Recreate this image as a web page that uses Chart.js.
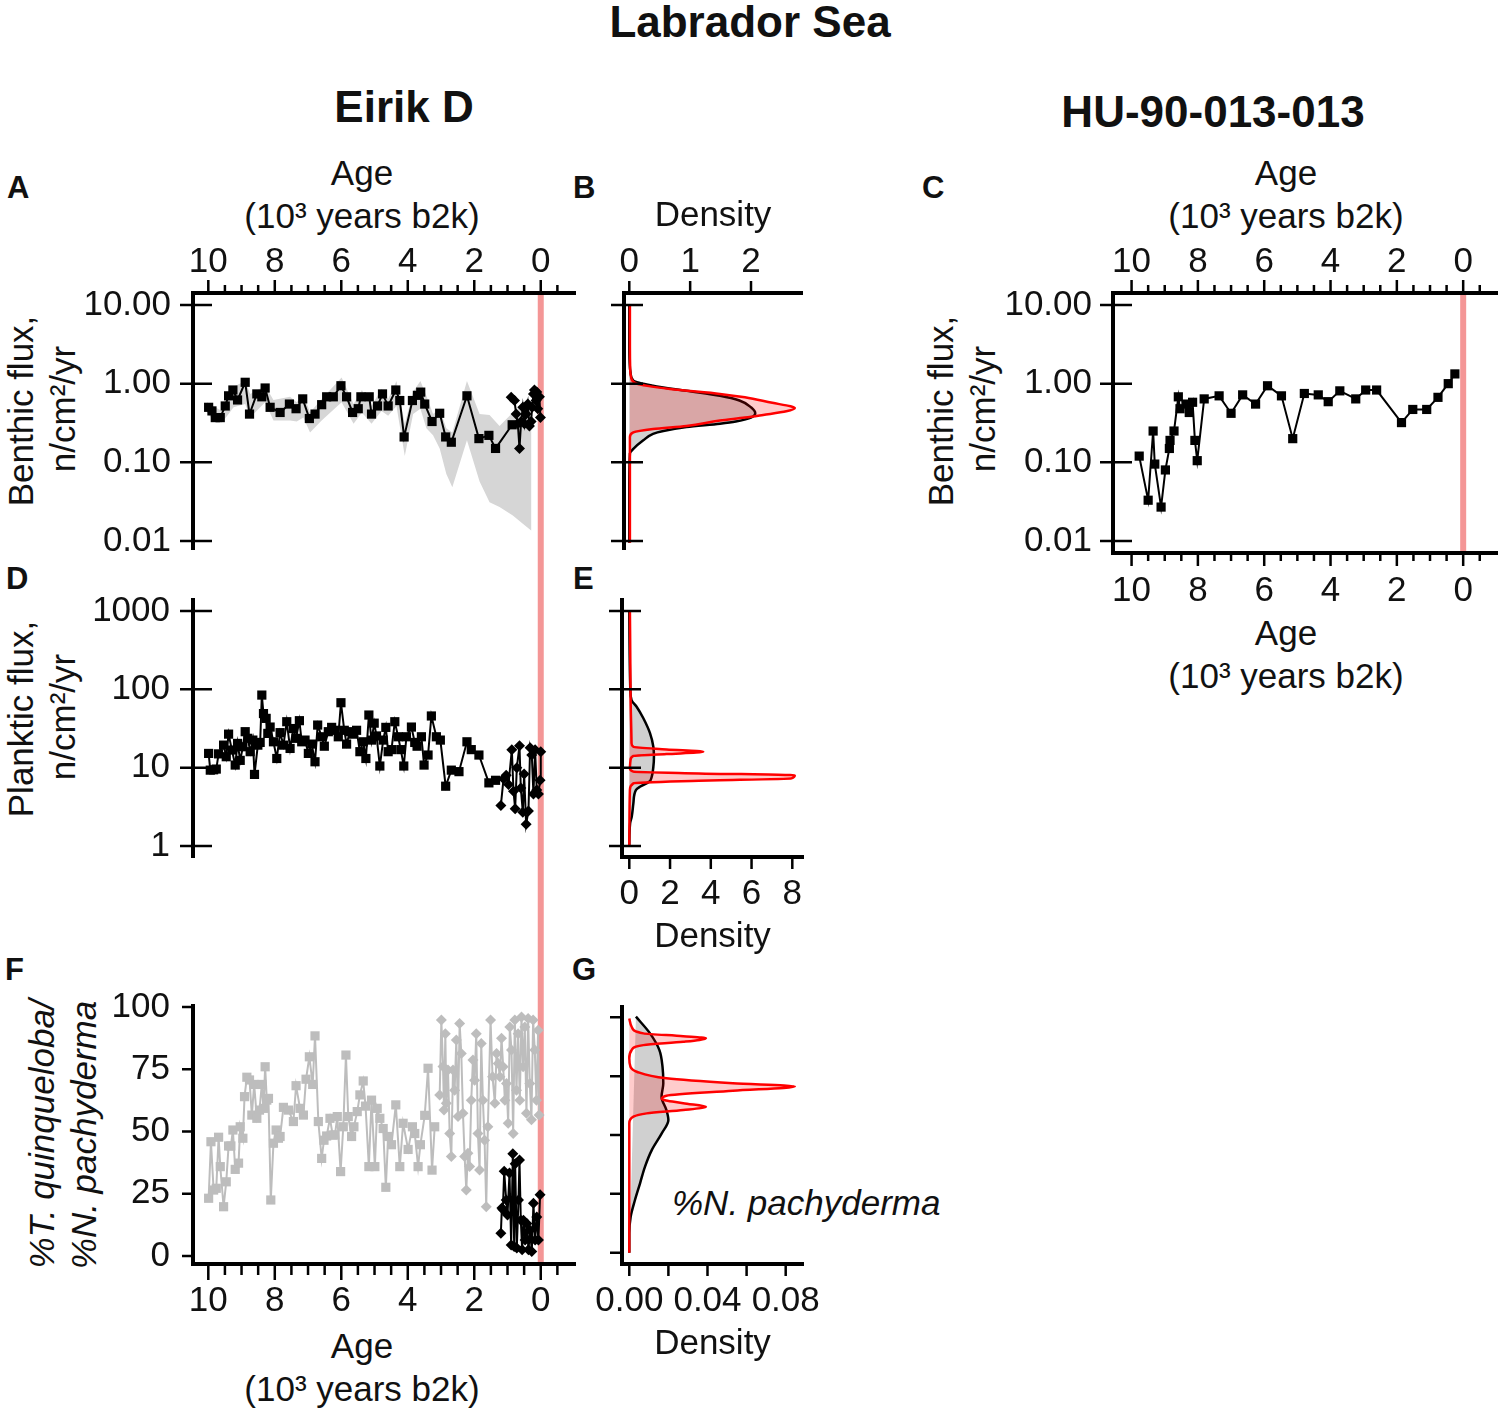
<!DOCTYPE html>
<html>
<head>
<meta charset="utf-8">
<title>Labrador Sea</title>
<script src="https://cdn.jsdelivr.net/npm/chart.js@4.4.1/dist/chart.umd.min.js"></script>
<style>
  body { margin: 0; background: #fff; width: 1500px; height: 1410px; position: relative; overflow: hidden;
         font-family: 'Liberation Sans', Arial, Helvetica, sans-serif; color: #111; }
  canvas { position: absolute; }
  .t { position: absolute; white-space: nowrap; line-height: 1; }
  .b { font-weight: bold; }
  .c { transform: translateX(-50%); }
  .m { font-size: 35px; transform: translate(-50%, -50%); }
  .r { font-size: 35px; transform: translate(-50%, -50%) rotate(-90deg); }
  .i { font-style: italic; }
</style>
</head>
<body>
<div class="t b c" style="left:750px;top:0px;font-size:44px">Labrador Sea</div>
<div class="t b c" style="left:404px;top:85px;font-size:44px">Eirik D</div>
<div class="t b c" style="left:1213px;top:90px;font-size:44px">HU-90-013-013</div>

<div class="t b" style="left:7px;top:172px;font-size:31px">A</div>
<div class="t b" style="left:573px;top:172px;font-size:31px">B</div>
<div class="t b" style="left:922px;top:172px;font-size:31px">C</div>
<div class="t b" style="left:6px;top:563px;font-size:31px">D</div>
<div class="t b" style="left:573px;top:563px;font-size:31px">E</div>
<div class="t b" style="left:5px;top:954px;font-size:31px">F</div>
<div class="t b" style="left:572px;top:954px;font-size:31px">G</div>

<!-- axis titles -->
<div class="t m" style="left:362px;top:172px">Age</div>
<div class="t m" style="left:362px;top:215px">(10³ years b2k)</div>
<div class="t m" style="left:1286px;top:172px">Age</div>
<div class="t m" style="left:1286px;top:215px">(10³ years b2k)</div>
<div class="t m" style="left:1286px;top:632px">Age</div>
<div class="t m" style="left:1286px;top:675px">(10³ years b2k)</div>
<div class="t m" style="left:362px;top:1345px">Age</div>
<div class="t m" style="left:362px;top:1388px">(10³ years b2k)</div>

<div class="t r" style="left:20px;top:411px">Benthic flux,</div>
<div class="t r" style="left:62px;top:409px">n/cm²/yr</div>
<div class="t r" style="left:940px;top:411px">Benthic flux,</div>
<div class="t r" style="left:982px;top:409px">n/cm²/yr</div>
<div class="t r" style="left:20px;top:719px">Planktic flux,</div>
<div class="t r" style="left:62px;top:717px">n/cm²/yr</div>
<div class="t r i" style="left:41px;top:1134px">%T. quinqueloba/</div>
<div class="t r i" style="left:83px;top:1135px">%N. pachyderma</div>

<div class="t i" style="left:672px;top:1185px;font-size:35px">%N. pachyderma</div>

<canvas id="cA"></canvas>
<canvas id="cB"></canvas>
<canvas id="cC"></canvas>
<canvas id="cD"></canvas>
<canvas id="cE"></canvas>
<canvas id="cF"></canvas>
<canvas id="cG"></canvas>

<script>
// ---- tick labels ----
const ageTicks = [10, 8, 6, 4, 2, 0];
const ageMinorTicks = [9.5, 9, 8.5, 7.5, 7, 6.5, 5.5, 5, 4.5, 3.5, 3, 2.5, 1.5, 1, 0.5, -0.5];
const benthicTicks = [10, 1, 0.1, 0.01];
const plankticTicks = [1000, 100, 10, 1];
const pctTicks = [0, 25, 50, 75, 100];
const densBTicks = [0, 1, 2];
const densETicks = [0, 2, 4, 6, 8];
const densGTicks = [0, 0.04, 0.08];
const densGMarks = [0, 0.02, 0.04, 0.06, 0.08];
const refAge = 0;

// ---- A: Eirik D benthic flux ----
const eirikAgeSq = [9.99, 9.89, 9.79, 9.64, 9.49, 9.39, 9.26, 9.12, 8.89, 8.76, 8.54, 8.39, 8.29, 8.14, 7.84,
  7.56, 7.36, 7.16, 6.96, 6.79, 6.59, 6.44, 6.24, 6.01, 5.84, 5.66, 5.49, 5.41, 5.16, 5.09, 4.91, 4.76, 4.59,
  4.36, 4.24, 4.11, 3.86, 3.71, 3.61, 3.49, 3.27, 3.04, 2.86, 2.69, 2.22, 1.86, 1.56, 1.36, 0.86];
const eirikBenthicSq = [0.50, 0.45, 0.37, 0.37, 0.52, 0.70, 0.83, 0.62, 1.04, 0.41, 0.74, 0.68, 0.88, 0.50, 0.43,
  0.55, 0.48, 0.64, 0.36, 0.41, 0.54, 0.68, 0.68, 0.94, 0.68, 0.43, 0.48, 0.68, 0.68, 0.41, 0.52, 0.74, 0.52,
  0.83, 0.61, 0.21, 0.61, 0.71, 0.78, 0.55, 0.33, 0.42, 0.21, 0.18, 0.70, 0.20, 0.22, 0.15, 0.30];
const eirikAgeDi = [0.89, 0.79, 0.74, 0.69, 0.64, 0.59, 0.54, 0.49, 0.44, 0.39, 0.34, 0.29, 0.26, 0.22, 0.19,
  0.14, 0.12, 0.09, 0.04, 0.01];
const eirikBenthicDi = [0.67, 0.61, 0.41, 0.31, 0.15, 0.33, 0.50, 0.31, 0.41, 0.55, 0.29, 0.33, 0.50, 0.74, 0.83,
  0.61, 0.78, 0.48, 0.68, 0.37];
const bandAge = [10.04, 9.79, 9.59, 9.39, 9.24, 8.89, 8.74, 8.29, 8.04, 7.54, 7.34, 7.14, 6.94, 6.59, 5.99, 5.63,
  5.38, 5.09, 4.79, 4.59, 4.34, 4.09, 3.84, 3.62, 3.44, 3.24, 3.04, 2.84, 2.66, 2.22, 1.84, 1.54, 1.24, 0.84, 0.53, 0.28];
const bandHi = [0.58, 0.50, 0.45, 0.79, 0.91, 1.08, 0.74, 0.94, 0.62, 0.68, 0.58, 0.74, 0.43, 0.64, 1.2, 0.55,
  0.83, 0.52, 0.86, 0.64, 1.08, 0.31, 0.79, 1.08, 0.70, 0.41, 0.48, 0.27, 0.24, 1.08, 0.41, 0.40, 0.29, 0.43, 0.55, 0.50];
const bandLo = [0.43, 0.32, 0.32, 0.41, 0.50, 0.55, 0.37, 0.58, 0.34, 0.34, 0.33, 0.37, 0.24, 0.34, 0.58, 0.31,
  0.43, 0.31, 0.45, 0.39, 0.52, 0.12, 0.41, 0.48, 0.27, 0.22, 0.15, 0.071, 0.048, 0.19, 0.057, 0.031, 0.027, 0.021, 0.0164, 0.0135];

// ---- B: density of benthic flux ----
const bBlackFlux = [10, 3, 1.6, 1.39, 1.09, 0.94, 0.81, 0.70, 0.61, 0.50, 0.42, 0.37, 0.33, 0.31, 0.28, 0.25,
  0.23, 0.19, 0.148, 0.13, 0.05, 0.0095];
const bBlackDens = [0, 0, 0.01, 0.02, 0.066, 0.39, 0.94, 1.49, 1.81, 2.0, 2.07, 2.0, 1.75, 1.49, 0.94, 0.56,
  0.39, 0.23, 0.066, 0.01, 0, 0];
const bRedFlux = [10, 3, 1.5, 1.2, 1.0, 0.855, 0.74, 0.67, 0.57, 0.515, 0.49, 0.445, 0.40, 0.37, 0.34, 0.29,
  0.265, 0.24, 0.21, 0.1, 0.0095];
const bRedDens = [0.01, 0.01, 0.015, 0.03, 0.12, 0.67, 1.49, 1.90, 2.35, 2.65, 2.72, 2.58, 2.2, 1.9, 1.49, 0.94,
  0.39, 0.066, 0.01, 0.01, 0.01];

// ---- C: HU-90-013-013 benthic flux ----
const huAge = [9.77, 9.50, 9.35, 9.30, 9.11, 8.98, 8.86, 8.84, 8.72, 8.59, 8.54, 8.36, 8.26, 8.16, 8.09, 8.02,
  7.81, 7.36, 7.00, 6.65, 6.26, 5.90, 5.48, 5.14, 4.79, 4.37, 4.07, 3.72, 3.24, 2.94, 2.61, 1.86, 1.52, 1.10,
  0.76, 0.45, 0.25];
const huBenthic = [0.12, 0.033, 0.25, 0.095, 0.027, 0.08, 0.15, 0.19, 0.25, 0.68, 0.48, 0.55, 0.43, 0.58, 0.19,
  0.105, 0.64, 0.70, 0.42, 0.72, 0.55, 0.94, 0.70, 0.20, 0.75, 0.72, 0.59, 0.81, 0.64, 0.83, 0.83, 0.32, 0.47,
  0.47, 0.67, 1.0, 1.33];

// ---- D: Eirik D planktic flux ----
const plankAgeSq = [9.99, 9.94, 9.84, 9.76, 9.69, 9.54, 9.46, 9.39, 9.29, 9.19, 9.12, 9.04, 8.96, 8.89, 8.81,
  8.74, 8.66, 8.61, 8.51, 8.44, 8.39, 8.34, 8.26, 8.21, 8.14, 8.04, 7.94, 7.84, 7.74, 7.64, 7.54, 7.44, 7.36,
  7.26, 7.19, 7.09, 6.99, 6.89, 6.79, 6.71, 6.59, 6.51, 6.39, 6.29, 6.19, 6.09, 6.01, 5.91, 5.84, 5.74, 5.64,
  5.54, 5.44, 5.34, 5.26, 5.17, 5.09, 5.01, 4.94, 4.84, 4.74, 4.66, 4.59, 4.49, 4.39, 4.29, 4.21, 4.12, 4.04,
  3.89, 3.79, 3.72, 3.59, 3.51, 3.39, 3.29, 3.14, 3.02, 2.86, 2.69, 2.46, 2.22, 2.09, 1.86, 1.56, 1.36];
const plankFluxSq = [15.2, 9.3, 9.4, 9.6, 15, 19.4, 13.8, 26.8, 16.8, 10.8, 20.4, 12.4, 18.5, 28.8, 23.7,
  16, 22.5, 8.2, 19.4, 21, 84.5, 49, 42.6, 27.4, 33, 21.4, 13.1, 28, 19.4, 38.6, 17.6, 31.6, 23.7,
  39.8, 21.4, 22.5, 15.2, 20, 11.9, 35, 24.8, 18.8, 28.8, 32.7, 30, 24.8, 67.5, 30, 20, 28.8, 26.8,
  30, 16, 21.4, 13.1, 47, 22.5, 37, 25.4, 10.5, 22.5, 32.7, 16, 17, 38.6, 24.8, 17, 10.5, 24.8,
  33, 21, 18.8, 24.8, 10.8, 14.5, 45.7, 24.8, 22.5, 5.8, 9.3, 8.9, 21.4, 17, 14.5, 6.4, 6.9];
const plankAgeDi = [1.20, 1.12, 1.04, 0.97, 0.87, 0.82, 0.77, 0.72, 0.64, 0.60, 0.54, 0.50, 0.44, 0.37, 0.32,
  0.27, 0.22, 0.17, 0.12, 0.07, 0.02, 0.0];
const plankFluxDi = [3.3, 7.2, 8, 6.1, 17, 5, 3.0, 10, 19, 5.5, 2.7, 8.3, 1.9, 2.8, 18,
  14.5, 4.6, 17, 5.2, 4.6, 6.9, 16];

// ---- E: density of planktic flux ----
const eBlackFlux = [1000, 100, 73, 60, 42.7, 27.4, 18.5, 13.8, 10.2, 7.65, 6.6, 5.7, 5.2, 3.5, 2.36, 1.95, 1.0];
const eBlackDens = [0, 0.05, 0.11, 0.36, 0.69, 1.02, 1.18, 1.21, 1.18, 1.10, 0.98, 0.52, 0.33, 0.2, 0.12, 0.04, 0];
const eRedFlux = [1000, 100, 20.5, 18.5, 17.1, 16, 14.9, 14.1, 12.5, 9.8, 8.9, 8.45, 8.0, 7.3, 6.8, 6.3, 5.2, 1.0];
const eRedDens = [0.03, 0.06, 0.11, 0.2, 1.83, 3.63, 1.83, 0.2, 0.06, 0.03, 0.2, 3.41, 8.12, 7.96, 3.41, 0.2, 0.03, 0];

// ---- F: %T. quinqueloba (grey) and %N. pachyderma (black) ----
const tqAgeSq = [9.99, 9.92, 9.84, 9.76, 9.69, 9.64, 9.54, 9.46, 9.39, 9.32, 9.26, 9.19, 9.09, 9.04, 8.96,
  8.91, 8.84, 8.76, 8.69, 8.62, 8.54, 8.46, 8.39, 8.34, 8.29, 8.24, 8.19, 8.12, 8.04, 7.96, 7.89, 7.84, 7.74,
  7.59, 7.44, 7.36, 7.24, 7.14, 7.06, 6.96, 6.86, 6.79, 6.69, 6.59, 6.52, 6.44, 6.34, 6.26, 6.19, 6.12, 6.02,
  5.94, 5.86, 5.79, 5.69, 5.62, 5.52, 5.44, 5.34, 5.27, 5.17, 5.09, 4.99, 4.92, 4.84, 4.74, 4.66, 4.59, 4.49,
  4.36, 4.24, 4.14, 3.99, 3.86, 3.79, 3.69, 3.62, 3.49, 3.39, 3.27, 3.19];
const tqPctSq = [23.2, 45.9, 26.5, 27.2, 47.7, 35.9, 19.8, 29.8, 44.2, 44.2, 50.6, 34.8, 37.3, 51.9, 47.3,
  64, 71.8, 70.7, 56.6, 68.9, 55.3, 58.6, 68.9, 59.3, 76, 62.6, 63.3, 22.5, 45.3, 50.6, 47.3, 48, 59.7,
  58.6, 54, 68.4, 59.3, 56.6, 71, 80, 68.9, 88.4, 54, 39.2, 46.5, 48.2, 55.3, 48.6, 48.6, 56, 33.9,
  51.9, 80.7, 56, 48, 51.9, 58, 64.7, 70.3, 60.2, 35.9, 62.6, 35.9, 59.3, 55.3, 51.2, 27.6, 48, 44.7,
  60.7, 35.9, 53.3, 42.8, 51.9, 49.2, 35.9, 44.7, 56.5, 75.4, 34.5, 51.9];
const tqAgeDi = [3.04, 2.99, 2.94, 2.91, 2.87, 2.84, 2.79, 2.74, 2.69, 2.64, 2.59, 2.54, 2.49, 2.44, 2.39,
  2.34, 2.29, 2.24, 2.19, 2.14, 2.09, 2.04, 1.99, 1.94, 1.89, 1.84, 1.79, 1.74, 1.69, 1.64, 1.59, 1.51, 1.45,
  1.38, 1.33, 1.28, 1.23, 1.18, 1.13, 1.08, 1.03, 0.98, 0.93, 0.88, 0.83, 0.78, 0.73, 0.68, 0.63, 0.58, 0.53,
  0.48, 0.43, 0.38, 0.33, 0.28, 0.23, 0.18, 0.13, 0.08, 0.05];
const tqPctDi = [64.7, 94.8, 76.1, 58.6, 89.3, 61.3, 74.7, 49.2, 40, 74.7, 66.6, 86.7, 56, 93.4, 81.3,
  57.3, 40, 26.5, 41.3, 36, 62.6, 78.7, 70.6, 89.3, 49.2, 34.5, 85.3, 62.6, 46.5, 19.8, 51.9, 94.8, 72,
  61.3, 81.3, 77.3, 72, 87.4, 76, 62.6, 69.3, 53.3, 92, 82.7, 49.2, 94.8, 66.6, 89.3, 62.6, 96, 76,
  92, 57.3, 95.4, 69.3, 54.7, 94.8, 82.7, 62.6, 90.7, 56.6];
const npAge = [1.20, 1.17, 1.14, 1.10, 1.04, 1.00, 0.94, 0.89, 0.84, 0.80, 0.77, 0.72, 0.67, 0.64, 0.60,
  0.56, 0.52, 0.47, 0.42, 0.37, 0.32, 0.27, 0.22, 0.17, 0.12, 0.07, 0.02];
const npPct = [9.1, 19.3, 18.7, 34, 22.5, 16.5, 33.3, 4.4, 41.1, 3.8, 37.1, 3.2, 22.5, 38.6, 14.4,
  2.5, 14.4, 6.4, 13.1, 2.5, 10.4, 1.8, 21.2, 6.4, 15.7, 6.4, 24.6];

// ---- G: density of %N. pachyderma ----
const gBlackPct = [100.3, 93.2, 86.1, 79, 72, 66.3, 60.6, 56.4, 50.7, 43.6, 36.5, 29.5, 22.4, 15.3, 8.2, 0];
const gBlackDens = [0.0034, 0.0106, 0.0154, 0.017, 0.0174, 0.0165, 0.019, 0.02, 0.0166, 0.0115, 0.008, 0.0055,
  0.0029, 0.0007, 0, 0];
const gRedPct = [99.5, 96, 93.2, 92, 91.1, 89.6, 88.2, 86.1, 82.6, 79, 76.9, 74.1, 72, 70.6, 68.8, 66.7, 65.3,
  63.5, 62.0, 60.6, 59.2, 57.8, 55, 0];
const gRedDens = [0, 0.0012, 0.0072, 0.0276, 0.0392, 0.0276, 0.0072, 0.0012, 0, 0.0006, 0.0038, 0.019, 0.053,
  0.0847, 0.053, 0.019, 0.0166, 0.0276, 0.0392, 0.0276, 0.0089, 0.0021, 0, 0];

// ---- styling ----
const FONT = "'Liberation Sans', Arial, Helvetica, sans-serif";
const INK = '#111';
const GREY = '#bdbdbd';
const REF_RED = '#f49696';
const tickFont = {family: FONT, size: 35, lineHeight: 1.2};
const titleFont = {family: FONT, size: 35, lineHeight: 1.25};
Chart.defaults.font.family = FONT;

function pts(xs, ys) { return xs.map((x, i) => ({x: x, y: ys[i]})); }

function place(id, left, top, w, h) {
  const c = document.getElementById(id);
  c.width = w; c.height = h;
  c.style.left = left + 'px'; c.style.top = top + 'px';
  return c;
}

function fixSize(prop, px) {
  return s => {
    s[prop] = px;
    s.paddingLeft = 0; s.paddingRight = 0; s.paddingTop = 0; s.paddingBottom = 0;
  };
}

function logMinor(min, max) {
  const out = [];
  for (let e = -3; e <= 3; e++) {
    for (let k = 2; k <= 9; k++) {
      const v = k * Math.pow(10, e);
      if (v > min && v < max) out.push(v);
    }
  }
  return out;
}

const border = {display: true, color: '#000', width: 4};
const noGrid = {display: false, drawTicks: false};

function xScale(o) {
  return {
    type: 'linear', position: o.position, reverse: !!o.reverse, min: o.min, max: o.max, bounds: 'data',
    afterBuildTicks: s => { s.ticks = o.ticks.map(v => ({value: v})); },
    afterFit: fixSize('height', o.size),
    grid: noGrid,
    border: border,
    ticks: {font: tickFont, color: INK, padding: o.pad, maxRotation: 0, minRotation: 0, autoSkip: false,
            callback: o.fmt || (v => String(v))},
    title: {display: !!o.title, text: o.title || '', font: titleFont, color: INK, padding: o.titlePad || 0}
  };
}

function yScale(o) {
  return {
    type: o.type, min: o.min, max: o.max, bounds: 'data',
    afterBuildTicks: s => { s.ticks = o.ticks.map(v => ({value: v})); },
    afterFit: fixSize('width', o.size),
    grid: noGrid,
    border: border,
    ticks: {display: !!o.labels, font: tickFont, color: INK, padding: o.pad || 0, autoSkip: false,
            callback: o.fmt || (v => String(v))}
  };
}

function options(padding, scales, extra) {
  return Object.assign({
    responsive: false, animation: false, devicePixelRatio: 1,
    layout: {padding: padding, autoPadding: false},
    plugins: {legend: {display: false}, tooltip: {enabled: false}},
    scales: scales
  }, extra || {});
}

function series(xs, ys, color, style, r, order) {
  return {data: pts(xs, ys), borderColor: color, backgroundColor: color, pointBackgroundColor: color,
          borderWidth: 2, pointStyle: style, pointRadius: r, pointBorderWidth: 0, fill: false, tension: 0, order: order};
}

function band(xs, ys, fill, order) {
  return {data: pts(xs, ys), borderWidth: 0, borderColor: 'rgba(0,0,0,0)', pointRadius: 0,
          backgroundColor: '#d6d6d6', fill: fill, tension: 0, order: order};
}

function density(dens, ys, line, area, order) {
  return {data: pts(dens, ys), borderColor: line, backgroundColor: area, borderWidth: 2.5, pointRadius: 0,
          fill: 'shape', cubicInterpolationMode: 'monotone', order: order};
}

// red reference line at the present (age 0); runs through the gaps between stacked panels
function refLine(fromArea, toArea) {
  return {
    id: 'refLine',
    beforeDatasetsDraw(chart) {
      const {ctx, chartArea} = chart;
      const x = chart.scales.x.getPixelForValue(refAge);
      const y0 = fromArea ? chartArea.top + 2 : 0;
      const y1 = toArea ? chartArea.bottom - 2 : chart.height;
      ctx.save();
      ctx.strokeStyle = REF_RED;
      ctx.lineWidth = 6;
      ctx.beginPath(); ctx.moveTo(x, y0); ctx.lineTo(x, y1); ctx.stroke();
      ctx.restore();
    }
  };
}

// tick marks: out = length outside the plot, inn = length inside
function tickMarks(specs) {
  return {
    id: 'tickMarks',
    afterDraw(chart) {
      const {ctx, chartArea: a} = chart;
      ctx.save();
      ctx.strokeStyle = '#000';
      for (const t of specs) {
        const s = chart.scales[t.axis];
        ctx.lineWidth = t.width || 2.5;
        ctx.beginPath();
        for (const v of t.values) {
          const p = s.getPixelForValue(v);
          if (s.isHorizontal()) {
            const top = s.position === 'top';
            const edge = top ? a.top : a.bottom;
            const d = top ? -1 : 1;
            ctx.moveTo(p, edge - d * (t.inn || 0));
            ctx.lineTo(p, edge + d * t.out);
          } else {
            ctx.moveTo(a.left + (t.inn || 0), p);
            ctx.lineTo(a.left - t.out, p);
          }
        }
        ctx.stroke();
      }
      ctx.restore();
    }
  };
}

const benthicRange = {min: 0.0079, max: 14.2};
const plankticRange = {min: 0.724, max: 1382};
const benthicMinor = logMinor(benthicRange.min, benthicRange.max);
const plankticMinor = logMinor(plankticRange.min, plankticRange.max);
const fmt2 = v => v.toFixed(2);

// A
new Chart(place('cA', 0, 140, 580, 435), {
  type: 'line',
  data: {datasets: [
    series(eirikAgeSq, eirikBenthicSq, '#000', 'rect', 6.5, 1),
    series(eirikAgeDi, eirikBenthicDi, '#000', 'rectRot', 5.5, 0),
    band(bandAge, bandHi, false, 4),
    band(bandAge, bandLo, '-1', 3)
  ]},
  options: options({left: 0, top: 0, right: 5, bottom: 26}, {
    x: xScale({position: 'top', reverse: true, min: -1.03, max: 10.46, ticks: ageTicks, size: 153, pad: 10}),
    y: yScale({type: 'logarithmic', min: benthicRange.min, max: benthicRange.max, ticks: benthicTicks, size: 193,
               labels: true, pad: 22, fmt: fmt2})
  }),
  plugins: [refLine(true, false), tickMarks([
    {axis: 'x', values: ageTicks, out: 13},
    {axis: 'x', values: ageMinorTicks, out: 8},
    {axis: 'y', values: benthicTicks, out: 13, inn: 19},
    {axis: 'y', values: benthicMinor, inn: 10}
  ])]
});

// B
new Chart(place('cB', 580, 140, 240, 435), {
  type: 'line',
  data: {datasets: [
    density(bBlackDens, bBlackFlux, '#000', 'rgba(120,120,120,0.35)', 1),
    density(bRedDens, bRedFlux, '#ff0000', 'rgba(255,0,0,0.2)', 0)
  ]},
  options: options({left: 0, top: 0, right: 18, bottom: 26}, {
    x: xScale({position: 'top', min: -0.087, max: 2.838, ticks: densBTicks, size: 153, pad: 10,
               title: 'Density', titlePad: {top: 54}}),
    y: yScale({type: 'logarithmic', min: benthicRange.min, max: benthicRange.max, ticks: benthicTicks, size: 44})
  }, {indexAxis: 'y'}),
  plugins: [tickMarks([
    {axis: 'x', values: densBTicks, out: 12},
    {axis: 'y', values: benthicTicks, out: 13, inn: 19},
    {axis: 'y', values: benthicMinor, inn: 10}
  ])]
});

// C
new Chart(place('cC', 900, 140, 600, 580), {
  type: 'line',
  data: {datasets: [series(huAge, huBenthic, '#000', 'rect', 6.5, 0)]},
  options: options({left: 0, top: 0, right: 3, bottom: 0}, {
    x: xScale({position: 'top', reverse: true, min: -1.02, max: 10.56, ticks: ageTicks, size: 153, pad: 10}),
    x2: xScale({position: 'bottom', reverse: true, min: -1.02, max: 10.56, ticks: ageTicks, size: 167, pad: 17}),
    y: yScale({type: 'logarithmic', min: 0.00704, max: 14.2, ticks: benthicTicks, size: 213,
               labels: true, pad: 21, fmt: fmt2})
  }),
  plugins: [refLine(true, true), tickMarks([
    {axis: 'x', values: ageTicks, out: 13},
    {axis: 'x', values: ageMinorTicks, out: 8},
    {axis: 'x2', values: ageTicks, out: 13},
    {axis: 'x2', values: ageMinorTicks, out: 8},
    {axis: 'y', values: benthicTicks, out: 13, inn: 19},
    {axis: 'y', values: logMinor(0.00704, 14.2), inn: 10}
  ])]
});

// D
new Chart(place('cD', 0, 575, 580, 390), {
  type: 'line',
  data: {datasets: [
    series(plankAgeSq, plankFluxSq, '#000', 'rect', 6.5, 1),
    series(plankAgeDi, plankFluxDi, '#000', 'rectRot', 5.5, 0)
  ]},
  options: options({left: 0, top: 25, right: 5, bottom: 108}, {
    x: {type: 'linear', display: false, reverse: true, min: -1.03, max: 10.46, bounds: 'data'},
    y: yScale({type: 'logarithmic', min: plankticRange.min, max: plankticRange.max, ticks: plankticTicks, size: 193,
               labels: true, pad: 23})
  }),
  plugins: [refLine(false, false), tickMarks([
    {axis: 'y', values: plankticTicks, out: 13, inn: 19},
    {axis: 'y', values: plankticMinor, inn: 10}
  ])]
});

// E
new Chart(place('cE', 580, 575, 240, 390), {
  type: 'line',
  data: {datasets: [
    density(eBlackDens, eBlackFlux, '#000', 'rgba(120,120,120,0.35)', 1),
    density(eRedDens, eRedFlux, '#ff0000', 'rgba(255,0,0,0.2)', 0)
  ]},
  options: options({left: 0, top: 25, right: 17, bottom: 0}, {
    x: xScale({position: 'bottom', min: -0.358, max: 8.525, ticks: densETicks, size: 108, pad: 16,
               title: 'Density', titlePad: {bottom: 6}}),
    y: yScale({type: 'logarithmic', min: plankticRange.min, max: plankticRange.max, ticks: plankticTicks, size: 42})
  }, {indexAxis: 'y'}),
  plugins: [tickMarks([
    {axis: 'x', values: densETicks, out: 12},
    {axis: 'y', values: plankticTicks, out: 13, inn: 19},
    {axis: 'y', values: plankticMinor, inn: 10}
  ])]
});

// F
new Chart(place('cF', 0, 965, 580, 445), {
  type: 'line',
  data: {datasets: [
    series(npAge, npPct, '#000', 'rectRot', 5.5, 0),
    series(tqAgeDi, tqPctDi, GREY, 'rectRot', 5.5, 1),
    series(tqAgeSq, tqPctSq, GREY, 'rect', 6.5, 2)
  ]},
  options: options({left: 0, top: 41, right: 5, bottom: 0}, {
    x: xScale({position: 'bottom', reverse: true, min: -1.03, max: 10.46, ticks: ageTicks, size: 146, pad: 16}),
    y: yScale({type: 'linear', min: -3.2, max: 100.4, ticks: pctTicks, size: 193, labels: true, pad: 23})
  }),
  plugins: [refLine(false, true), tickMarks([
    {axis: 'x', values: ageTicks, out: 16},
    {axis: 'x', values: ageMinorTicks, out: 11},
    {axis: 'y', values: pctTicks, out: 11}
  ])]
});

// G
new Chart(place('cG', 580, 965, 240, 445), {
  type: 'line',
  data: {datasets: [
    density(gBlackDens, gBlackPct, '#000', 'rgba(120,120,120,0.35)', 1),
    density(gRedDens, gRedPct, '#ff0000', 'rgba(255,0,0,0.2)', 0)
  ]},
  options: options({left: 0, top: 42, right: 17, bottom: 0}, {
    x: xScale({position: 'bottom', min: -0.00373, max: 0.08885, ticks: densGTicks, size: 146, pad: 16,
               fmt: v => v.toFixed(2), title: 'Density', titlePad: {bottom: 44}}),
    y: yScale({type: 'linear', min: -4.8, max: 104.4, ticks: pctTicks, size: 42})
  }, {indexAxis: 'y'}),
  plugins: [tickMarks([
    {axis: 'x', values: densGMarks, out: 12},
    {axis: 'y', values: pctTicks, out: 12}
  ])]
});
</script>
</body>
</html>
